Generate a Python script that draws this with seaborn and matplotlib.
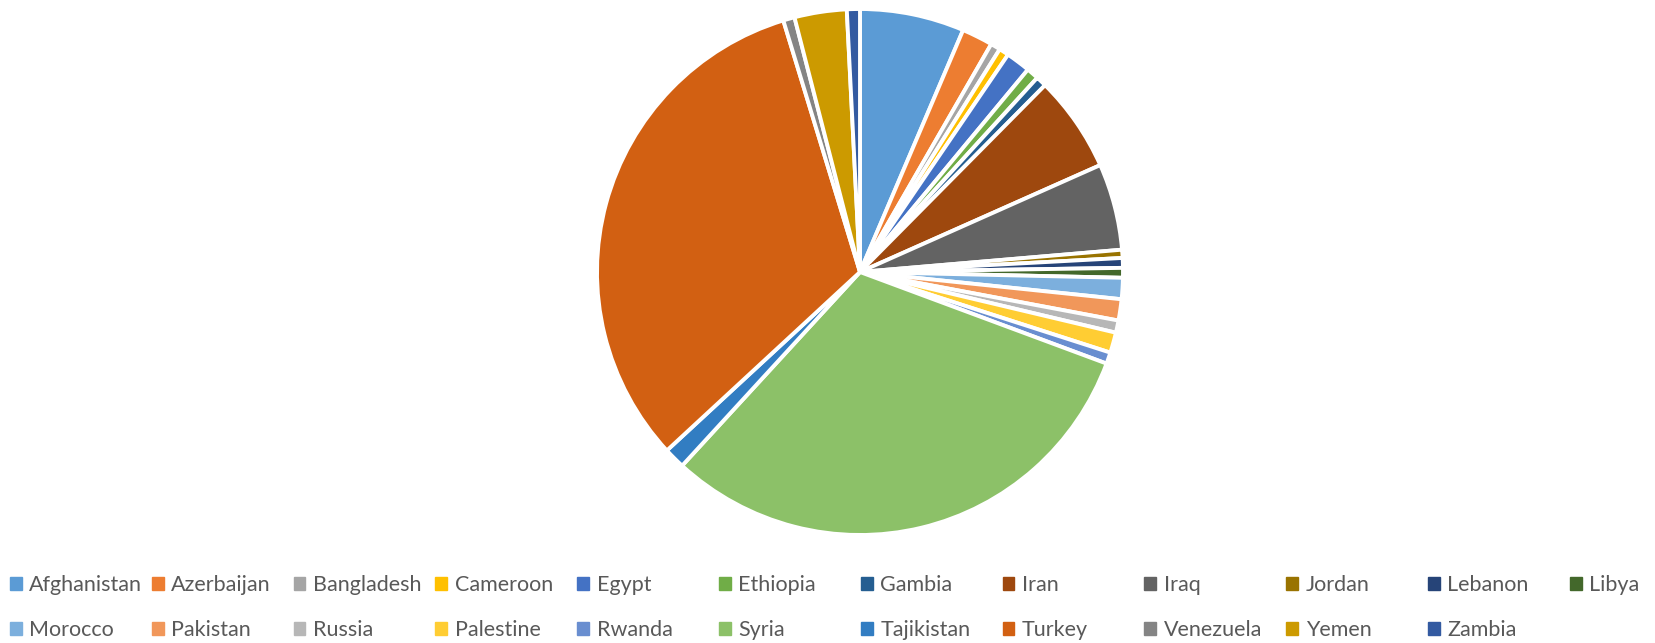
import numpy as np
import matplotlib.pyplot as plt
import seaborn as sns
from matplotlib.patches import Patch

countries = ['Afghanistan', 'Azerbaijan', 'Bangladesh', 'Cameroon', 'Egypt', 'Ethiopia',
             'Gambia', 'Iran', 'Iraq', 'Jordan', 'Lebanon', 'Libya',
             'Morocco', 'Pakistan', 'Russia', 'Palestine', 'Rwanda', 'Syria',
             'Tajikistan', 'Turkey', 'Venezuela', 'Yemen', 'Zambia']
# share of total (%)
shares = [6.4, 1.9, 0.6, 0.6, 1.5, 0.75,
          0.65, 5.9, 5.3, 0.5, 0.6, 0.6,
          1.3, 1.3, 0.75, 1.25, 0.7, 31.1,
          1.3, 32.1, 0.7, 3.2, 0.8]
colors = ['#5B9BD5', '#ED7D31', '#A5A5A5', '#FFC000', '#4472C4', '#70AD47',
          '#255E91', '#9E480E', '#636363', '#997300', '#264478', '#43682B',
          '#7CAFDD', '#F1975A', '#B7B7B7', '#FFCD33', '#698ED0', '#8CC168',
          '#327DC2', '#D26012', '#848484', '#CC9A00', '#335AA1']

sns.set_theme(style='white')
plt.rcParams['font.family'] = ['Lato', 'DejaVu Sans']

W, H = 1655, 643
fig = plt.figure(figsize=(W / 100, H / 100), dpi=100)
cx, cy, r = 860, 272, 263
ax = fig.add_axes([(cx - r) / W, (H - cy - r) / H, 2 * r / W, 2 * r / H])
ax.pie(shares, colors=colors, startangle=90, counterclock=False,
       wedgeprops=dict(edgecolor='white', linewidth=2.8))
ax.set_xlim(-1, 1)
ax.set_ylim(-1, 1)
ax.set_aspect('equal')
ax.axis('off')

# legend: 12 equal-width columns, 2 rows, like Excel
ncol = 12
x0, dx = 10, 141.8
rows_y = [585, 630]
for c in range(ncol):
    for row, yy in enumerate(rows_y):
        i = row * ncol + c
        if i >= len(countries):
            continue
        fig.legend(handles=[Patch(color=colors[i])], labels=[countries[i]],
                   loc='center left', bbox_to_anchor=(x0 / W + c * dx / W, 1 - yy / H),
                   frameon=False, fontsize=15.5, handlelength=0.55, handleheight=0.55,
                   handletextpad=0.35, borderpad=0, borderaxespad=0,
                   labelcolor='#595959')

fig.savefig('out.png', dpi=100, facecolor='white')
